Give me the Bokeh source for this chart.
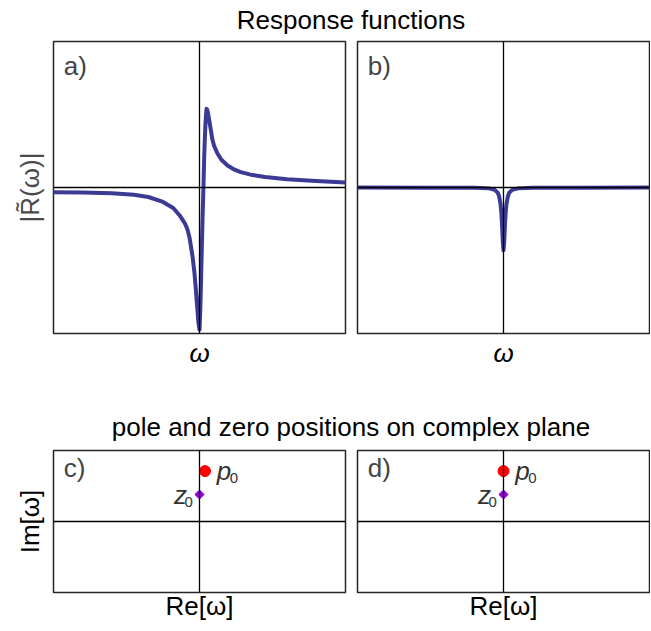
import math
from bokeh.plotting import figure
from bokeh.layouts import column, row
from bokeh.models import Div, Label, Span
from bokeh.embed import file_html
from bokeh.resources import INLINE

FONT = "Liberation Sans"
CURVE = "#3b3a94"

# ---- data ----
omega_a = [-1.0, -0.8, -0.6, -0.45, -0.35, -0.25, -0.18, -0.137, -0.1, -0.082, -0.068,
           -0.048, -0.035, -0.025, -0.015, -0.007, 0.0, 0.005, 0.009, 0.015, 0.02, 0.027,
           0.032, 0.036, 0.042, 0.048, 0.052, 0.058, 0.065, 0.075, 0.088, 0.1, 0.123, 0.15,
           0.192, 0.24, 0.283, 0.35, 0.45, 0.6, 0.8, 1.0]
resp_a = [-0.032, -0.035, -0.04, -0.05, -0.065, -0.099, -0.14, -0.19, -0.245, -0.29, -0.345,
          -0.47, -0.58, -0.70, -0.83, -0.93, -0.973, -0.85, -0.705, -0.45, -0.247, 0.0,
          0.2, 0.322, 0.46, 0.539, 0.535, 0.51, 0.47, 0.41, 0.33, 0.285, 0.233, 0.19,
          0.151, 0.122, 0.105, 0.088, 0.072, 0.057, 0.044, 0.034]

omega_b = [-1.0, -0.5, -0.2, -0.1, -0.06, -0.04, -0.03, -0.02, -0.015, -0.01, -0.005, 0.0,
           0.005, 0.01, 0.015, 0.02, 0.03, 0.04, 0.06, 0.1, 0.2, 0.5, 1.0]
resp_b = [0.0, -0.001, -0.002, -0.006, -0.016, -0.035, -0.06, -0.115, -0.17, -0.255, -0.37, -0.43,
          -0.37, -0.255, -0.17, -0.115, -0.06, -0.035, -0.016, -0.006, -0.002, -0.001, 0.0]

pole_c = [0.038, 0.71]
zero_c = [0.0, 0.38]
pole_d = [0.0, 0.71]
zero_d = [0.0, 0.38]

panel_labels = ["a)", "b)", "c)", "d)"]
titles = ["Response functions", "pole and zero positions on complex plane"]
x_labels = ["\u03c9", "\u03c9", "Re[\u03c9]", "Re[\u03c9]"]
y_labels = ["|R\u0303(\u03c9)|", "Im[\u03c9]"]


def panel(frame_h, bl, br, bt, bb, xlabel, xitalic, xstand, ylabel, ycolor, plabel, plabel_y):
    p = figure(frame_width=292, frame_height=frame_h, x_range=(-1, 1), y_range=(-1, 1),
               min_border_left=bl, min_border_right=br, min_border_top=bt, min_border_bottom=bb,
               output_backend="svg", toolbar_location=None,
               y_axis_location="left" if ylabel else None)
    p.grid.visible = False
    p.outline_line_color = "#262626"
    p.outline_line_width = 1.5
    p.background_fill_color = "white"
    p.border_fill_color = "white"
    for ax in p.axis:
        ax.ticker = []
        ax.axis_line_color = None
        ax.major_tick_line_color = None
        ax.minor_tick_line_color = None
        ax.major_label_text_font_size = "0px"
        ax.major_label_standoff = 0
        ax.axis_label_text_font = FONT
        ax.axis_label_text_font_size = "26px"
    p.xaxis.axis_label = xlabel
    p.xaxis.axis_label_standoff = xstand
    p.xaxis.axis_label_text_font_style = "italic" if xitalic else "normal"
    p.xaxis.axis_label_text_color = "black"
    if ylabel:
        p.yaxis.axis_label = ylabel
        p.yaxis.axis_label_standoff = 9
        p.yaxis.axis_label_text_font_style = "normal"
        p.yaxis.axis_label_text_color = ycolor
    p.add_layout(Span(location=0, dimension="width", line_color="black", line_width=1.3))
    p.add_layout(Span(location=0, dimension="height", line_color="black", line_width=1.3))
    p.add_layout(Label(x=-0.93, y=plabel_y, text=plabel, text_font=FONT, text_font_size="26px",
                       text_color="#444444", text_baseline="middle", text_align="left"))
    return p


def poles(p, pole, zero):
    p.scatter([pole[0]], [pole[1]], size=11, marker="circle", fill_color="red", line_color="red")
    p.scatter([zero[0]], [zero[1]], size=6.5, marker="square", angle=math.pi / 4,
              fill_color="#9400d3", line_color="#9400d3")
    p.add_layout(Label(x=pole[0] + 0.08, y=pole[1], text="p", text_font=FONT, text_font_size="26px",
                       text_font_style="italic", text_color="#333333", text_baseline="middle"))
    p.add_layout(Label(x=pole[0] + 0.17, y=pole[1] - 0.1, text="0", text_font=FONT, text_font_size="15px",
                       text_color="#333333", text_baseline="middle"))
    p.add_layout(Label(x=zero[0] - 0.085, y=zero[1], text="z", text_font=FONT, text_font_size="26px",
                       text_font_style="italic", text_color="#333333", text_baseline="middle",
                       text_align="right"))
    p.add_layout(Label(x=zero[0] - 0.045, y=zero[1] - 0.1, text="0", text_font=FONT, text_font_size="15px",
                       text_color="#333333", text_baseline="middle", text_align="right"))


fa = panel(292, 53, 3, 6, 79, x_labels[0], True, 4, y_labels[0], "#4a4a4a", panel_labels[0], 0.83)
fa.line(omega_a, resp_a, line_color=CURVE, line_width=4, line_join="round", line_cap="round")
fb = panel(292, 9, 1, 6, 79, x_labels[1], True, 4, None, None, panel_labels[1], 0.83)
fb.line(omega_b, resp_b, line_color=CURVE, line_width=4, line_join="round", line_cap="round")

fc = panel(142, 53, 3, 8, 30, x_labels[2], False, -2, y_labels[1], "black", panel_labels[2], 0.75)
poles(fc, pole_c, zero_c)
fd = panel(142, 9, 1, 8, 30, x_labels[3], False, -2, None, None, panel_labels[3], 0.75)
poles(fd, pole_d, zero_d)


def title_div(t, top):
    return Div(text=t, width=596, height=30, margin=(top, 0, 0, 53),
               styles={"font-family": FONT, "font-size": "26px", "line-height": "30px",
                       "text-align": "center", "color": "black", "white-space": "nowrap"})


layout = column(title_div(titles[0], 5), row(fa, fb), title_div(titles[1], 0), row(fc, fd))

open("out.html", "w").write(file_html(layout, INLINE))
